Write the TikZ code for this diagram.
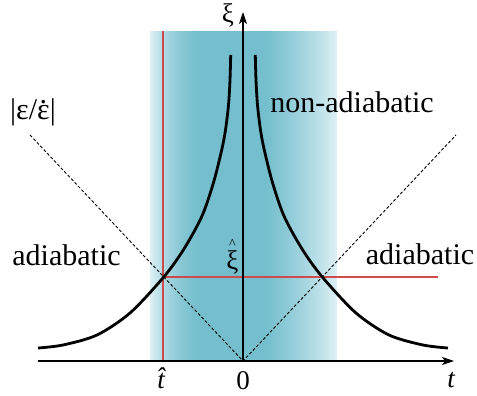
\documentclass[tikz,border=0pt]{standalone}
\usepackage{fontspec}
\setmainfont{Liberation Serif}
\usetikzlibrary{arrows.meta,calc}
\definecolor{s0}{RGB}{222,240,245}
\definecolor{s3}{RGB}{116,190,205}
\definecolor{redc}{RGB}{205,75,75}
\begin{document}
\begin{tikzpicture}[x=1pt,y=-1pt,
  curve/.style={line width=2.8pt},
  axisline/.style={line width=1.2pt,-{Stealth[length=12pt,width=8pt,inset=3pt]}},
  guide/.style={fill=redc},
  dashline/.style={line width=0.9pt,dash pattern=on 3pt off 2pt},
  lbl/.style={inner sep=0pt,font=\fontsize{30}{34}\selectfont},
  tick/.style={inner sep=0pt,font=\fontsize{27}{30}\selectfont}]
\useasboundingbox (0,0) rectangle (477,396);
% shaded band
\foreach \i in {0,...,186} {
  \pgfmathsetmacro\uL{min(max(\i,0)/55,1)}
  \pgfmathsetmacro\uR{min(max(\i-115,0)/72,1)}
  \pgfmathsetmacro\p{100*(1-(1-\uL)*(1-\uL))*(1-\uR)*(1+0.3*\uR)}
  \fill[s3!\p!s0] (150+\i,31) rectangle (151.3+\i,361);
}
% coordinates
\coordinate (O) at (243,361);
\coordinate (xl) at (38,361);
\coordinate (xr) at (454,361);
\coordinate (yt) at (243,12);
\coordinate (vt) at (163,31);
\coordinate (vb) at (163,361);
\coordinate (X) at (163,277);
\coordinate (hr) at (438,277);
\coordinate (dl) at (30,135);
\coordinate (dr) at (456,135);
% red guide lines
\path[guide] ($(vt)+(-0.6,0)$) rectangle ($(vb)+(0.6,0)$);
\path[guide] ($(X)+(0,-0.9)$) rectangle ($(hr)+(0,0.9)$);
% dashed lines
\draw[dashline] (dl) -- (O) -- (dr);
% curves
\draw[curve] plot[smooth] coordinates {(38,348) (63,345) (97,335) (130,313) (163.3,277.5) (183.3,250) (201.7,216.7) (213.3,183.3) (221.7,150) (225.5,130) (228.5,105) (230,80) (230.7,55)};
\draw[curve] plot[smooth] coordinates {(448,348) (423,345) (389,335) (356,313) (322.7,277.5) (302.7,250) (284.3,216.7) (272.7,183.3) (264.3,150) (260.5,130) (257.5,105) (256,80) (255.3,55)};
% axes
\draw[axisline] (xl) -- (xr);
\draw[axisline] (O) -- (yt);
% labels
\node[tick] (xi) at (228,15) {ξ};
\node[tick,anchor=base] (tl) at (451,387) {\itshape t};
\node[tick,anchor=base] (zero) at (243,389) {0};
\node[tick,anchor=base] (that) at (161,388) {\itshape\^{t}};
\node[tick,anchor=base] (xihat) at (232.5,269) {\ooalign{ξ\cr\hidewidth\raisebox{21pt}{\fontsize{14}{14}\selectfont\textasciicircum}\hidewidth\cr}};
\node[lbl,anchor=base] (ratio) at (33,119) {|ε/\ooalign{ε\cr\hidewidth\raisebox{16pt}{.}\hidewidth\cr}|};
\node[lbl,anchor=base] (adl) at (66.5,265) {adiabatic};
\node[lbl,anchor=base] (adr) at (420,264) {adiabatic};
\node[lbl,anchor=base] (nad) at (352,113) {non-adiabatic};
\end{tikzpicture}
\end{document}
